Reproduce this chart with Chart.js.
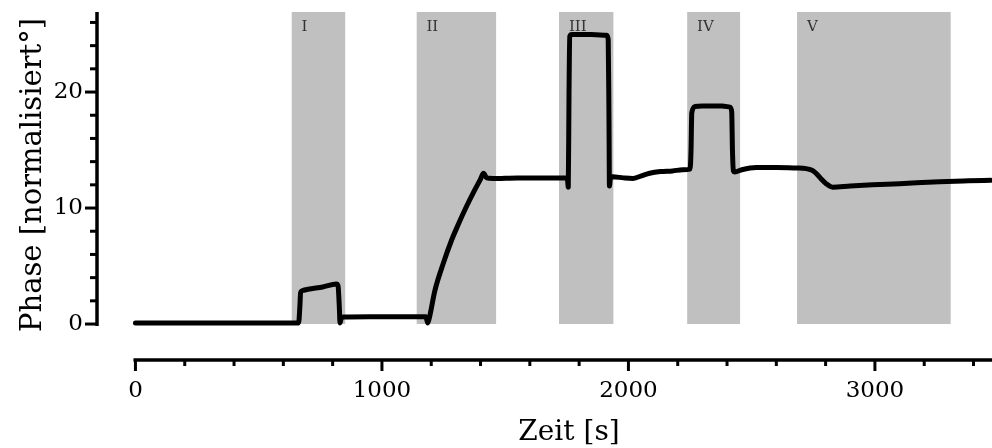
<!DOCTYPE html>
<html><head><meta charset="utf-8">
<script src="https://cdn.jsdelivr.net/npm/chart.js@4.4.1/dist/chart.umd.min.js"></script>
<style>html,body{margin:0;padding:0;background:#fff}#wrap{width:992px;height:448px}</style>
</head><body><div id="wrap"><canvas id="c"></canvas></div>
<script>
// ---- data ----
const timeS = [0,300,600,662,667,670,680,700,760,815,822,827,830,835,845,950,1100,1178,1186,1192,1215,1250,1282,1310,1340,1375,1400,1412,1425,1450,1550,1650,1752,1756,1759,1762,1770,1850,1912,1918,1921,1923,1927,1936,1980,2017,2050,2086,2130,2179,2220,2250,2254,2257,2270,2300,2380,2412,2419,2422,2426,2432,2460,2518,2600,2680,2721,2745,2761,2782,2802,2828,2900,2990,3100,3261,3380,3470];
const phase = [0.1,0.1,0.1,0.1,1.5,2.7,2.9,3.0,3.2,3.45,3.3,1.5,0.1,0.5,0.6,0.62,0.62,0.62,0.1,0.5,2.9,5.3,7.2,8.6,10.0,11.5,12.5,13.0,12.6,12.55,12.6,12.6,12.6,11.8,20,24.8,24.95,24.95,24.9,24.5,18,11.9,12.6,12.7,12.6,12.55,12.75,13.0,13.15,13.2,13.3,13.35,15,18.2,18.75,18.8,18.8,18.7,18.3,15,13.2,13.1,13.3,13.5,13.5,13.45,13.4,13.25,13.0,12.5,12.1,11.8,11.9,12.0,12.1,12.27,12.35,12.4];
const regionLabels = ['I','II','III','IV','V'];
const regionStart = [633,1140,1718,2238,2684];
const regionEnd = [852,1464,1940,2454,3308];
const xTickLabels = [0,1000,2000,3000];
const yTickLabels = [0,10,20];
const xTitle = 'Zeit [s]';
const yTitle = 'Phase [normalisiert°]';

const X_MIN = -156, X_MAX = 3475, Y_MIN = -3.1, Y_MAX = 26.9;
const SERIF = '"DejaVu Serif", serif';

const regionSets = regionStart.map((s,i)=>({
  data:[{x:s,y:Y_MAX},{x:regionEnd[i],y:Y_MAX}],
  borderWidth:0, pointRadius:0, backgroundColor:'#c0c0c0', borderColor:'rgba(0,0,0,0)',
  fill:{value:0}, order:1
}));

const axesPlugin = {
  id:'axesPlugin',
  afterDraw(chart){
    const ctx = chart.ctx, xs = chart.scales.x, ys = chart.scales.y, ca = chart.chartArea;
    ctx.save();
    ctx.strokeStyle = '#000'; ctx.lineCap='butt';
    // y axis
    const yx = ca.left;
    ctx.lineWidth = 3.5;
    ctx.beginPath(); ctx.moveTo(yx, ys.getPixelForValue(0)+2); ctx.lineTo(yx, ys.getPixelForValue(Y_MAX)); ctx.stroke();
    ctx.lineWidth = 3;
    for(let v=0; v<=26; v+=2){
      const p = ys.getPixelForValue(v), len = (v%10===0)?12:7;
      ctx.beginPath(); ctx.moveTo(yx, p); ctx.lineTo(yx-len, p); ctx.stroke();
    }
    // x axis
    const xy = ca.bottom;
    ctx.lineWidth = 3.5;
    ctx.beginPath(); ctx.moveTo(xs.getPixelForValue(0)-2, xy); ctx.lineTo(ca.right, xy); ctx.stroke();
    ctx.lineWidth = 3;
    for(let v=0; v<=3400; v+=200){
      const p = xs.getPixelForValue(v), len = (v%1000===0)?11:6;
      ctx.beginPath(); ctx.moveTo(p, xy); ctx.lineTo(p, xy+len); ctx.stroke();
    }
    // titles
    ctx.fillStyle = '#000';
    ctx.font = '28px ' + SERIF;
    ctx.textAlign = 'center'; ctx.textBaseline = 'alphabetic';
    ctx.fillText(xTitle, 569, 440);
    ctx.save();
    ctx.translate(41, 175); ctx.rotate(-Math.PI/2);
    ctx.font = '29px ' + SERIF;
    ctx.fillText(yTitle, 0, 0);
    ctx.restore();
    // region labels
    ctx.font = '15px ' + SERIF; ctx.fillStyle = '#333';
    ctx.textAlign = 'left'; ctx.textBaseline = 'middle';
    regionStart.forEach((s,i)=>{
      ctx.fillText(regionLabels[i], xs.getPixelForValue(s)+10, 27);
    });
    ctx.restore();
  }
};

new Chart(document.getElementById('c'), {
  type:'line',
  data:{ datasets:[
    { data: timeS.map((t,i)=>({x:t,y:phase[i]})), borderColor:'#000', borderWidth:5,
      pointRadius:0, fill:false, cubicInterpolationMode:'monotone', borderJoinStyle:'round', borderCapStyle:'round', order:0 },
    ...regionSets
  ]},
  options:{
    responsive:true, maintainAspectRatio:false, animation:false,
    layout:{padding:{top:12,right:0,left:0,bottom:0}},
    plugins:{legend:{display:false}, tooltip:{enabled:false}},
    scales:{
      x:{ type:'linear', min:X_MIN, max:X_MAX,
        afterBuildTicks:s=>{ s.ticks = xTickLabels.map(v=>({value:v})); },
        afterFit:s=>{ s.height = 88; s.paddingLeft = 0; s.paddingRight = 0; },
        grid:{display:false, drawTicks:false}, border:{display:false},
        ticks:{ font:{family:SERIF, size:23}, color:'#000', padding:17, maxRotation:0, autoSkip:false,
          callback:v=>String(v) }
      },
      y:{ type:'linear', min:Y_MIN, max:Y_MAX,
        afterBuildTicks:s=>{ s.ticks = yTickLabels.map(v=>({value:v})); },
        afterFit:s=>{ s.width = 97; s.paddingTop = 0; s.paddingBottom = 0; },
        grid:{display:false, drawTicks:false}, border:{display:false},
        ticks:{ font:{family:SERIF, size:23}, color:'#000', padding:14, callback:v=>String(v) }
      }
    }
  },
  plugins:[axesPlugin]
});
</script>
</body></html>
